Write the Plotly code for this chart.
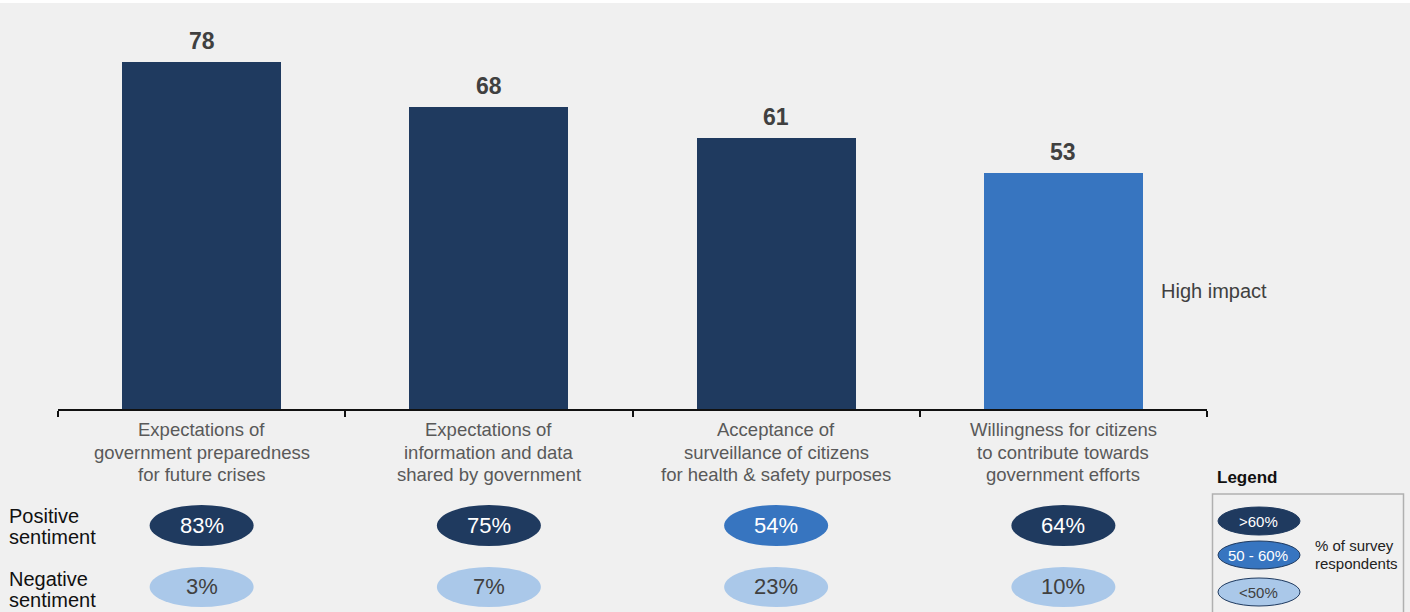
import plotly.graph_objects as go

# ---- data -------------------------------------------------------------
categories = [
    ["Expectations of", "government preparedness", "for future crises"],
    ["Expectations of", "information and data", "shared by government"],
    ["Acceptance of", "surveillance of citizens", "for health & safety purposes"],
    ["Willingness for citizens", "to contribute towards", "government efforts"],
]
impact_scores = [78, 68, 61, 53]
positive_sentiment = [83, 75, 54, 64]
negative_sentiment = [3, 7, 23, 10]
legend_bands = [">60%", "50 - 60%", "<50%"]

# ---- styling ----------------------------------------------------------
DARK = "#1f3a5f"
MID = "#3775c0"
LIGHT = "#aac8e9"
BG = "#f0f0f0"
FONT = "Liberation Sans, Arial, sans-serif"


def band_color(v):
    if v > 60:
        return DARK
    if v >= 50:
        return MID
    return LIGHT


def band_text(v):
    return "white" if v >= 50 else "#404040"


W, H = 1410, 612
M_L, M_R, M_T, M_B = 58, 203, 9, 203
Y_MAX = 90.0
plot_h = H - M_T - M_B
plot_w = W - M_L - M_R


def py(pixel_y):
    """Convert a page pixel row into paper y."""
    return (H - M_B - pixel_y) / plot_h


def px(pixel_x):
    """Convert a page pixel column into paper x."""
    return (pixel_x - M_L) / plot_w


x_idx = list(range(len(categories)))

fig = go.Figure()
fig.add_trace(go.Bar(
    x=x_idx,
    y=impact_scores,
    width=0.553,
    marker=dict(color=[band_color(v) for v in impact_scores], line=dict(width=0)),
    hoverinfo="skip",
))

annotations = []
shapes = []


def text_at(x, y, text, size, color, xref="paper", xanchor="center", bold=False):
    annotations.append(dict(
        x=x, y=y, xref=xref, yref="paper",
        text=f"<b>{text}</b>" if bold else text,
        showarrow=False, xanchor=xanchor, yanchor="middle",
        font=dict(family=FONT, size=size, color=color),
    ))


# value labels above bars
for i, v in zip(x_idx, impact_scores):
    annotations.append(dict(
        x=i, y=v, xref="x", yref="y", text=f"<b>{v}</b>", showarrow=False,
        xanchor="center", yanchor="bottom", yshift=6,
        font=dict(family=FONT, size=23, color="#404040"),
    ))

# category labels below axis, one line at a time
for i, lines in zip(x_idx, categories):
    for k, line in enumerate(lines):
        text_at(i, py(429.5 + 22.7 * k), line, 18.5, "#595959", xref="x")

# sentiment ellipses
rows = [(positive_sentiment, 525.5, 41), (negative_sentiment, 587, 40)]
for values, cy, h in rows:
    for i, v in zip(x_idx, values):
        shapes.append(dict(
            type="circle", xref="x", yref="paper",
            xsizemode="pixel", xanchor=i, x0=-52, x1=52,
            ysizemode="pixel", yanchor=py(cy), y0=-h / 2, y1=h / 2,
            fillcolor=band_color(v), line=dict(width=0), layer="above",
        ))
        text_at(i, py(cy - 0.5), f"{v}%", 22, band_text(v), xref="x")

# row labels
for lines, ty in [(["Positive", "sentiment"], 516), (["Negative", "sentiment"], 579)]:
    for k, line in enumerate(lines):
        text_at(px(7), py(ty + 21 * k), line, 20, "#111111", xanchor="left")

# side note
text_at(px(1159), py(291), "High impact", 20, "#404040", xanchor="left")

# legend block
text_at(px(1215), py(478), "Legend", 17, "#111111", xanchor="left", bold=True)
shapes.append(dict(
    type="rect", xref="paper", yref="paper",
    x0=px(1212.5), x1=px(1403.5), y0=py(494), y1=py(640),
    line=dict(color="#b0b0b0", width=1.5), fillcolor="rgba(0,0,0,0)",
))
legend_values = [70, 55, 40]
for label, v, cy in zip(legend_bands, legend_values, [521, 555, 592]):
    shapes.append(dict(
        type="circle", xref="paper", yref="paper",
        x0=px(1218), x1=px(1300), y0=py(cy - 14), y1=py(cy + 14),
        fillcolor=band_color(v), line=dict(color="#1f3a5f", width=1),
    ))
    text_at(px(1258), py(cy), label, 15, band_text(v))
for k, line in enumerate(["% of survey", "respondents"]):
    text_at(px(1313), py(545 + 18 * k), line, 15, "#222222", xanchor="left")

# thin white strip along the top edge
shapes.append(dict(
    type="rect", xref="paper", yref="paper",
    x0=px(0), x1=px(W), y0=py(3), y1=py(-2),
    fillcolor="white", line=dict(width=0), layer="below",
))

fig.update_layout(
    width=W, height=H,
    margin=dict(l=M_L, r=M_R, t=M_T, b=M_B, pad=0),
    paper_bgcolor=BG, plot_bgcolor=BG,
    showlegend=False,
    bargap=0,
    xaxis=dict(
        range=[-0.5, 3.5], tickmode="array", tickvals=[-0.5, 0.5, 1.5, 2.5, 3.5],
        ticktext=[""] * 5, ticks="outside", ticklen=6, tickwidth=1.5,
        tickcolor="#111111", showline=True, linecolor="#111111", linewidth=1.5,
        showgrid=False, zeroline=False, fixedrange=True,
    ),
    yaxis=dict(range=[0, Y_MAX], visible=False, showgrid=False, zeroline=False),
    annotations=annotations,
    shapes=shapes,
)

fig.write_html("out.html")
